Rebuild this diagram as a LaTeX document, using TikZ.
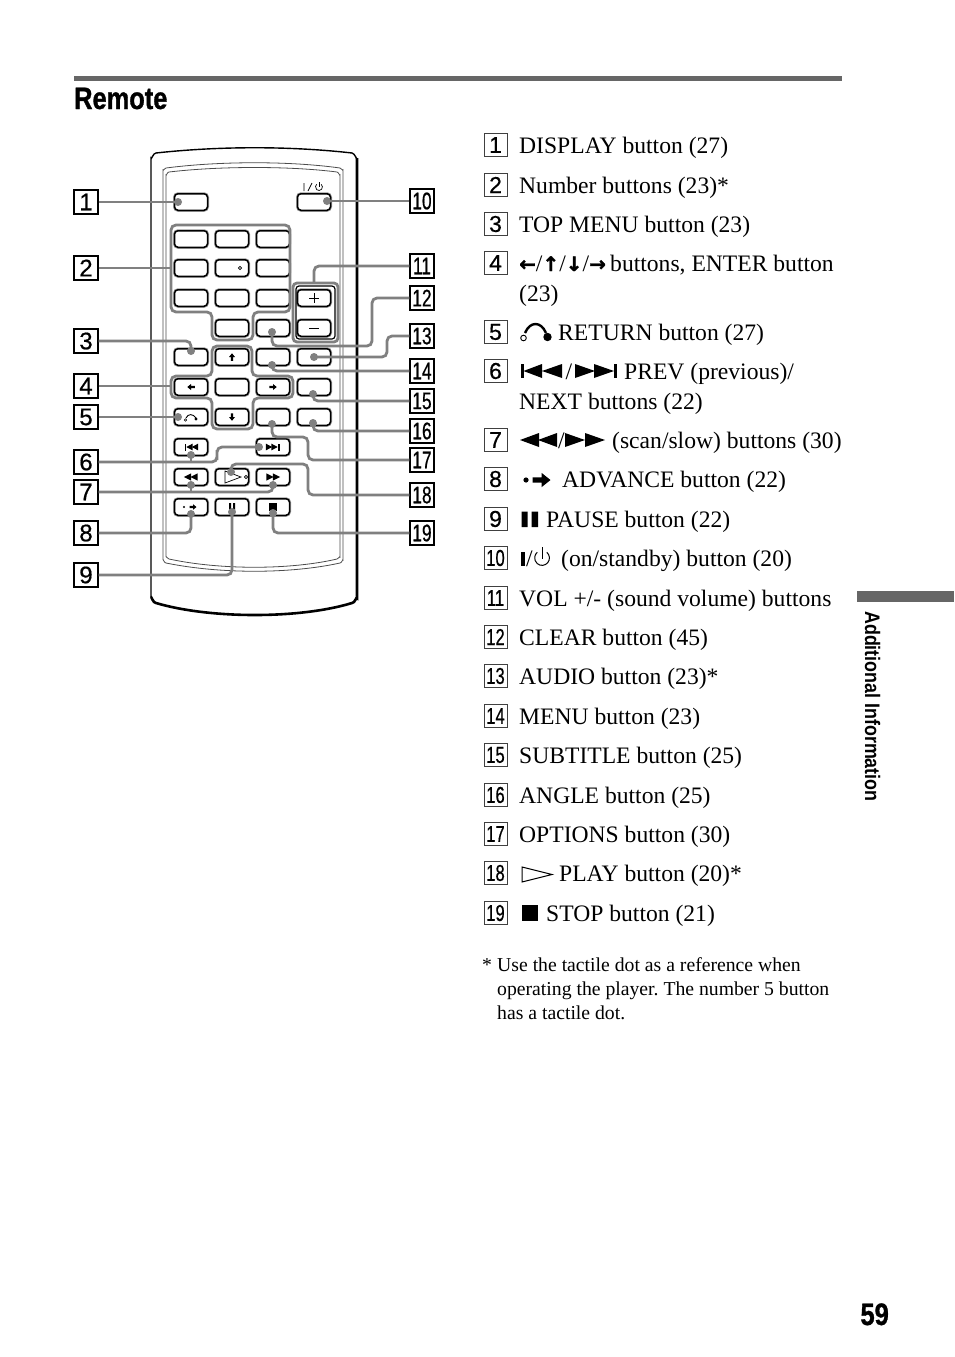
\documentclass[tikz,border=0pt]{standalone}
\usepackage{fontspec}
\usepackage{xcolor}
\usetikzlibrary{calc}
\setmainfont{Liberation Serif}
\newfontfamily\tagfont[FakeBold=0.6]{Liberation Sans}
\newfontfamily\tagnarrow[FakeStretch=0.72,FakeBold=0.6]{Liberation Sans}
\newfontfamily\headfont[FakeStretch=0.82,FakeBold=1]{Liberation Sans Bold}
\newfontfamily\sidefont[FakeStretch=0.85]{Liberation Sans Bold}
\newfontfamily\arrowfont[FakeBold=1.6]{DejaVu Sans Bold}
\definecolor{leadergray}{gray}{0.5}
\definecolor{rulegray}{gray}{0.4}
\newcommand{\tagnum}[1]{\ifnum#1<10 {\tagfont #1}\else{\tagnarrow #1}\fi}
\newcommand{\bodysize}{\fontsize{23.6}{28}\selectfont}
\newcommand{\arrowglyph}[1]{{\arrowfont\fontsize{20}{20}\selectfont #1}}
\tikzset{
  btn/.style={draw=black, fill=white, line width=1.5pt, rounded corners=3.5pt,
    minimum width=33pt, minimum height=16.5pt, inner sep=0pt,
    preaction={draw=black!40, line width=3pt}},
  tagbox/.style={draw=black, line width=1.2pt, minimum size=24pt, inner sep=0pt,
    font=\fontsize{24}{24}\selectfont},
  listtag/.style={draw=black!75, line width=0.9pt, minimum width=23pt, minimum height=23pt,
    inner sep=0pt, font=\fontsize{23}{23}\selectfont},
  rowtext/.style={anchor=base west, inner sep=0pt, font=\bodysize},
  notetext/.style={anchor=base west, inner sep=0pt, font=\frenchspacing\fontsize{19.7}{24}\selectfont},
  leader/.style={draw=leadergray, line width=2.8pt, rounded corners=5pt},
  outline/.style={draw=leadergray, line width=2.8pt, rounded corners=5pt},
  tri/.pic={\fill (-4,-4) -- (4,0) -- (-4,4) -- cycle;},
  blockarrow/.pic={\fill (-5,-1.5) -- (0,-1.5) -- (0,-4) -- (5,0) -- (0,4) -- (0,1.5) -- (-5,1.5) -- cycle;},
}
\begin{document}
\begin{tikzpicture}[x=1pt, y=-1pt]
  \useasboundingbox (0,0) rectangle (954,1357);
  % --- page furniture ---
  \fill[rulegray] (74,76) rectangle (842,81);
  \fill[rulegray] (857,591) rectangle (954,602);
  \node[anchor=base west, inner sep=0pt, font=\headfont\fontsize{31}{31}\selectfont] (title) at (74,109) {Remote};
  \node[anchor=base west, inner sep=0pt, font=\sidefont\fontsize{21}{21}\selectfont, rotate=-90] (side) at (865,611) {Additional Information};
  \node[anchor=base east, inner sep=0pt, font=\headfont\fontsize{31}{31}\selectfont] (page) at (889,1325) {59};
  % --- remote body ---
  \draw[line width=1.4pt] (151,598) -- (151,158) to[out=-90,in=175] (156,153)
    .. controls (220,146) and (290,146) .. (352,153) to[out=-5,in=-90] (357,158);
  \draw[line width=2.6pt] (357,158) -- (357,598) to[out=90,in=-10] (352,603)
    .. controls (300,619) and (210,619) .. (156,603) to[out=190,in=90] (151,598);
  \draw[black!70, line width=0.8pt] (163,560) -- (163,170) to[out=-90,in=175] (166,168)
    .. controls (220,161) and (290,161) .. (340,168) to[out=-5,in=-90] (343,170) -- (343,560)
    to[out=90,in=-5] (340,563) .. controls (290,574) and (220,574) .. (166,563) to[out=185,in=90] (163,560);
  \draw[black!70, line width=0.8pt] (166,557) -- (166,175) to[out=-90,in=175] (169,172)
    .. controls (220,166) and (290,166) .. (337,172) to[out=-5,in=-90] (340,175) -- (340,557)
    to[out=90,in=-5] (337,559) .. controls (290,570) and (220,570) .. (169,559) to[out=185,in=90] (166,557);
  % --- buttons ---
  \foreach \nm/\xpos/\ypos in {display/191/202, power/314/202,
      b1/191/239, b2/232/239, b3/273/239, b4/191/268, b5/232/268, b6/273/268,
      b7/191/298, b8/232/298, b9/273/298, b0/232/328, clear/273/328,
      volup/314/298, voldn/314/328,
      top/191/357, up/232/357, menu/273/357, audio/314/357,
      left/191/387, enter/232/387, right/273/387, subtitle/314/387,
      return/191/417, down/232/417, options/273/417, angle/314/417,
      prev/191/447, next/273/447,
      rew/191/477, play/232/477, ffwd/273/477,
      advance/191/507, pause/232/507, stop/273/507}
    \node[btn] (\nm) at (\xpos,\ypos) {};
  % --- button symbols ---
  \draw[thick] (volup.center) +(-5,0) -- +(5,0) +(0,-5) -- +(0,5);
  \draw[thick] (voldn.center) +(-5,0) -- +(5,0);
  \draw[line width=0.6pt] (b5.center) ++(8,0) circle (1.6pt);
  \pic[scale=0.75, rotate=90] at (up.center) {blockarrow};
  \pic[scale=0.75, rotate=-90] at (down.center) {blockarrow};
  \pic[scale=0.75, rotate=180] at (left.center) {blockarrow};
  \pic[scale=0.75] at (right.center) {blockarrow};
  \draw[line width=0.9pt] (186,418) .. controls (188,413.5) and (193,413.5) .. (196,418);
  \fill (196,419) circle (1.6pt);
  \draw[line width=0.5pt] (185.5,420) circle (1.3pt);
  \fill (prev.center) +(-6.5,-3.5) rectangle +(-5,3.5);
  \pic[xscale=-0.8, yscale=0.85] at ($(prev.center)+(-1.5,0)$) {tri};
  \pic[xscale=-0.8, yscale=0.85] at ($(prev.center)+(4,0)$) {tri};
  \pic[xscale=0.8, yscale=0.85] at ($(next.center)+(-4,0)$) {tri};
  \pic[xscale=0.8, yscale=0.85] at ($(next.center)+(1.5,0)$) {tri};
  \fill (next.center) +(5,-3.5) rectangle +(6.5,3.5);
  \pic[xscale=-0.9, yscale=0.9] at ($(rew.center)+(-3.5,0)$) {tri};
  \pic[xscale=-0.9, yscale=0.9] at ($(rew.center)+(3,0)$) {tri};
  \pic[xscale=0.9, yscale=0.9] at ($(ffwd.center)+(-3,0)$) {tri};
  \pic[xscale=0.9, yscale=0.9] at ($(ffwd.center)+(3.5,0)$) {tri};
  \draw[line width=0.7pt] (225,471) -- (241,477) -- (225,483) -- cycle;
  \draw[line width=0.6pt] (246,477) circle (1.6pt);
  \fill (184,507) circle (1.2pt);
  \pic[scale=0.7] at (193,507) {blockarrow};
  \fill (pause.center) +(-3,-4) rectangle +(-1,4) +(1,-4) rectangle +(3,4);
  \fill (stop.center) +(-4,-4) rectangle +(4,4);
  \draw[line width=0.7pt] (304,183) -- (304,191) (308,191) -- (312,183);
  \draw[line width=0.7pt] (321.2,184.3) arc[start angle=50, end angle=-230, radius=3.5pt];
  \draw[line width=0.7pt] (319,182) -- (319,187);
  % --- groups ---
  \draw[outline] (171,225) -- (290,225) -- (290,312) -- (253,312) -- (253,340) -- (212,340) -- (212,312) -- (171,312) -- cycle;
  \draw[outline] (212,346) -- (252,346) -- (252,376) -- (293,376) -- (293,398) -- (253,398) -- (253,429) -- (212,429) -- (212,398) -- (171,398) -- (171,376) -- (212,376) -- cycle;
  \draw[outline, rounded corners=4pt] (293,283) rectangle (338,342);
  \draw[black, line width=1.2pt, rounded corners=3pt] (296,286) rectangle (335,339);
  % --- number tags, left and right ---
  \foreach \num/\ypos in {1/202, 2/268, 3/341, 4/386, 5/417, 6/462, 7/492, 8/533, 9/575}
    \node[tagbox] (t\num) at (86,\ypos) {\tagnum{\num}};
  \foreach \num/\ypos in {10/201, 11/266, 12/298, 13/336, 14/371, 15/401, 16/431, 17/460, 18/495, 19/533}
    \node[tagbox] (t\num) at (422,\ypos) {\tagnum{\num}};
  % --- leader ends ---
  \foreach \nm/\xpos/\ypos in {d1/178/202, d3/191/351, d5/178/417, d6a/191/455, d6b/259/447,
      d7a/191/485, d7b/273/485, d8/191/514, d9/232/512, d10/327/201, d12/272/332,
      d13/314/357, d14/272/365, d15/313/394, d16/313/423, d17/272/424, d18/231/472, d19/273/513,
      g2/172/268, g4/172/386, g11/314/283, c6/217/455}
    \coordinate (\nm) at (\xpos,\ypos);
  % --- leaders ---
  \draw[leader] (t1.east) -- (d1);
  \draw[leader] (t2.east) -- (g2);
  \draw[leader] (t3.east) -| (d3);
  \draw[leader] (t4.east) -- (g4);
  \draw[leader] (t5.east) -- (d5);
  \draw[leader] (t6.east) -| (c6) |- (d6b);
  \draw[leader] (t6.east -| d6a) -- (d6a);
  \draw[leader] (t7.east) -| (d7b);
  \draw[leader] (t7.east -| d7a) -- (d7a);
  \draw[leader] (t8.east) -| (d8);
  \draw[leader] (t9.east) -| (d9);
  \draw[leader] (t10.west) -- (d10);
  \draw[leader] (t11.west) -| (g11);
  \draw[leader] (t12.west) -| (372,346) -| (d12);
  \draw[leader] (t13.west) -| (387,357) -- (d13);
  \draw[leader] (t14.west) -| (d14);
  \draw[leader] (t15.west) -| (d15);
  \draw[leader] (t16.west) -| (d16);
  \draw[leader] (t17.west) -| (308,437) -| (d17);
  \draw[leader] (t18.west) -| (308,464) -| (d18);
  \draw[leader] (t19.west) -| (d19);
  \foreach \nm in {d1,d3,d5,d6a,d6b,d7a,d7b,d8,d9,d10,d12,d13,d14,d15,d16,d17,d18,d19}
    \fill[leadergray] (\nm) circle (4pt);
  % --- list ---
  \foreach \num/\ypos/\xpos/\txt in {1/145/519/{DISPLAY button (27)}, 2/185/519/{Number buttons (23)*},
      3/224/519/{TOP MENU button (23)}, 4/263/610/{buttons, ENTER button}, 5/332/558/{RETURN button (27)},
      6/371/624/{PREV (previous)/}, 7/440/612/{(scan/slow) buttons (30)}, 8/479/562/{ADVANCE button (22)},
      9/519/546/{PAUSE button (22)}, 10/558/561/{(on/standby) button (20)}, 11/598/519/{VOL +/- (sound volume) buttons},
      12/637/519/{CLEAR button (45)}, 13/676/519/{AUDIO button (23)*}, 14/716/519/{MENU button (23)},
      15/755/519/{SUBTITLE button (25)}, 16/795/519/{ANGLE button (25)}, 17/834/519/{OPTIONS button (30)},
      18/873/559/{PLAY button (20)*}, 19/913/546/{STOP button (21)}}
  {
    \node[listtag] (l\num) at (495.5,\ypos) {\tagnum{\num}};
    \node[rowtext] (r\num) at (\xpos,\ypos+8) {\txt};
  }
  \node[rowtext] (r4b) at (519,301) {(23)};
  \node[rowtext] (r6b) at (519,409) {NEXT buttons (22)};
  \node[rowtext] (arrows) at (519,271)
    {\arrowglyph{←}/\arrowglyph{↑}/\arrowglyph{↓}/\arrowglyph{→}};
  % --- list symbols ---
  \draw[line width=0.9pt] (523.5,338) circle (2.8pt);
  \fill (547.5,337) circle (4.2pt);
  \draw[line width=2.4pt] (525,333) .. controls (530,321) and (541,321) .. (546,333);
  \begin{scope}[yshift=-371pt]
    \fill (520.5,-7) rectangle (523.5,7);
    \fill (542,-7) -- (523.5,0) -- (542,7) -- cycle (562,-7) -- (542,0) -- (562,7) -- cycle;
    \fill (575,-7) -- (595,0) -- (575,7) -- cycle (594,-7) -- (614,0) -- (594,7) -- cycle;
    \fill (614,-7) rectangle (617,7);
  \end{scope}
  \node[rowtext] (s6) at (565.5,379) {/};
  \begin{scope}[yshift=-440pt]
    \fill (539,-7) -- (520,0) -- (539,7) -- cycle (557,-7) -- (538,0) -- (557,7) -- cycle;
    \fill (565,-7) -- (585,0) -- (565,7) -- cycle (585,-7) -- (605,0) -- (585,7) -- cycle;
  \end{scope}
  \node[rowtext] (s7) at (558,448) {/};
  \fill (526,480) circle (2.6pt);
  \pic[scale=1.8] at (541.5,480) {blockarrow};
  \fill (521.5,511.5) rectangle (527.5,527) (531.5,511.5) rectangle (538,527);
  \fill (520.5,552) rectangle (525,566);
  \node[rowtext] (s10) at (526,566) {/};
  \draw[line width=1pt] (546.8,552.3) arc[start angle=50, end angle=-230, radius=7.4pt];
  \draw[line width=1pt] (542,547) -- (542,559);
  \draw[line width=1pt] (522,867) -- (552,874.5) -- (522,882) -- cycle;
  \fill (522,905) rectangle (538,921);
  % --- footnote ---
  \node[notetext] (n0) at (482,971) {*};
  \node[notetext] (n1) at (497,971) {Use the tactile dot as a reference when};
  \node[notetext] (n2) at (497,995) {operating the player. The number 5 button};
  \node[notetext] (n3) at (497,1019) {has a tactile dot.};
\end{tikzpicture}
\end{document}
